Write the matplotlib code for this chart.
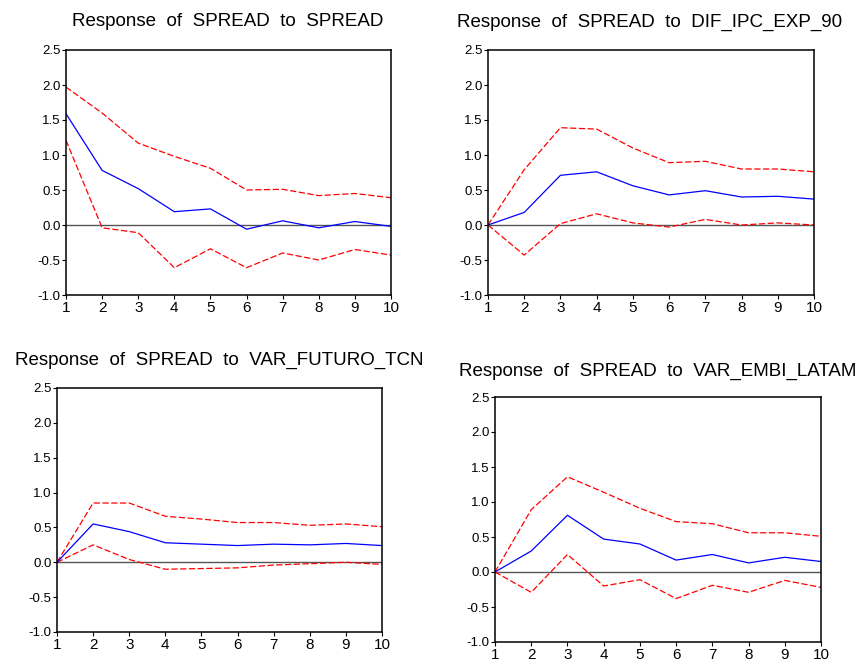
import matplotlib
matplotlib.use("Agg")
import matplotlib.pyplot as plt

plt.rcParams['font.family'] = ['Liberation Sans', 'DejaVu Sans']

periods = [1, 2, 3, 4, 5, 6, 7, 8, 9, 10]

titles = [
    "Response of SPREAD to SPREAD",
    "Response of SPREAD to DIF_IPC_EXP_90",
    "Response of SPREAD to VAR_FUTURO_TCN",
    "Response of SPREAD to VAR_EMBI_LATAM",
]

# impulse responses (blue) and +/- 2 s.e. bands (red dashed)
resp_spread = [1.59, 0.78, 0.52, 0.19, 0.23, -0.06, 0.06, -0.04, 0.05, -0.02]
up_spread = [1.97, 1.60, 1.17, 0.98, 0.81, 0.50, 0.51, 0.42, 0.45, 0.39]
lo_spread = [1.21, -0.04, -0.11, -0.61, -0.34, -0.61, -0.40, -0.50, -0.35, -0.43]

resp_ipc = [0.0, 0.18, 0.71, 0.76, 0.56, 0.43, 0.49, 0.40, 0.41, 0.37]
up_ipc = [0.0, 0.79, 1.39, 1.37, 1.10, 0.89, 0.91, 0.80, 0.80, 0.76]
lo_ipc = [0.0, -0.43, 0.02, 0.16, 0.03, -0.03, 0.08, 0.0, 0.03, 0.0]

resp_tcn = [0.0, 0.55, 0.44, 0.28, 0.26, 0.24, 0.26, 0.25, 0.27, 0.24]
up_tcn = [0.0, 0.85, 0.85, 0.66, 0.62, 0.57, 0.57, 0.53, 0.55, 0.51]
lo_tcn = [0.0, 0.25, 0.04, -0.10, -0.09, -0.08, -0.04, -0.02, 0.0, -0.03]

resp_embi = [0.0, 0.30, 0.81, 0.47, 0.40, 0.17, 0.25, 0.13, 0.21, 0.15]
up_embi = [0.0, 0.89, 1.36, 1.14, 0.91, 0.72, 0.69, 0.56, 0.56, 0.51]
lo_embi = [0.0, -0.29, 0.25, -0.20, -0.11, -0.38, -0.19, -0.29, -0.12, -0.22]

yticks = [-1.0, -0.5, 0.0, 0.5, 1.0, 1.5, 2.0, 2.5]

W, H = 863, 660
fig = plt.figure(figsize=(W / 100, H / 100), dpi=100)

# axes boxes in pixels: left, top, right, bottom
boxes = [(66, 50, 391, 295), (488, 50, 814, 295),
         (57, 388, 382, 632), (495, 397, 821, 642)]
title_pos = [(228, 22), (650, 22), (219, 360), (658, 371)]
series = [(resp_spread, up_spread, lo_spread),
          (resp_ipc, up_ipc, lo_ipc),
          (resp_tcn, up_tcn, lo_tcn),
          (resp_embi, up_embi, lo_embi)]

for i in range(4):
    l, t, r, b = boxes[i]
    ax = fig.add_axes([l / W, 1 - b / H, (r - l) / W, (b - t) / H])
    resp, up, lo = series[i]
    ax.axhline(0, color='#555555', lw=1.0, zorder=1)
    ax.plot(periods, up, color='#ff0000', lw=0.9, ls=(0, (5, 2)))
    ax.plot(periods, lo, color='#ff0000', lw=0.9, ls=(0, (5, 2)))
    ax.plot(periods, resp, color='#0000ff', lw=0.9)
    ax.set_xlim(1, 10)
    ax.set_ylim(-1.0, 2.5)
    ax.set_xticks(periods)
    ax.set_yticks(yticks)
    ax.set_yticklabels(["%.1f" % v for v in yticks])
    ax.tick_params(axis='y', direction='out', length=3, width=0.8, pad=1, labelsize=9.5)
    ax.tick_params(axis='x', direction='out', length=3, width=0.8, pad=1, labelsize=11)
    for s in ax.spines.values():
        s.set_linewidth(1.1)
    x, y = title_pos[i]
    # EViews-style wide word spacing
    fig.text(x / W, 1 - y / H, titles[i].replace(" ", "  "),
             ha='center', va='center', fontsize=13.5)

fig.savefig("out.png", dpi=100)
